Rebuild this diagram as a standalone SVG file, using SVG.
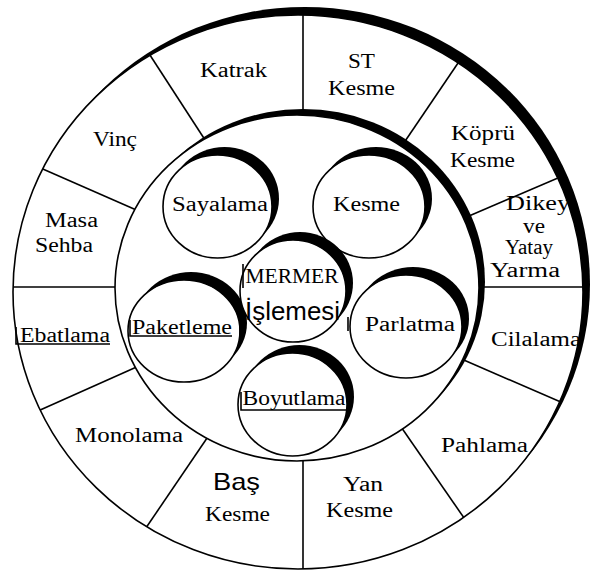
<svg xmlns="http://www.w3.org/2000/svg" width="593" height="571" viewBox="0 0 593 571">
<style>
.ln{fill:none;stroke:#000;stroke-width:1.6}
.sh{fill:#000}
.bd{fill:#fff;stroke:#000;stroke-width:1.6}
.t{font-family:"Liberation Serif","Times New Roman",serif;font-size:20px;fill:#000;text-anchor:middle}
.s{font-family:"Liberation Sans",Arial,sans-serif;fill:#000;text-anchor:middle}
</style>
<defs>
<clipPath id="oc"><ellipse cx="298" cy="292" rx="285" ry="277"/></clipPath>
</defs>
<rect width="593" height="571" fill="#fff"/>
<g id="outer-ring">
<ellipse class="sh" cx="305" cy="284" rx="285" ry="277"/>
<ellipse class="bd" cx="298" cy="292" rx="285" ry="277"/>
</g>
<g id="connectors" clip-path="url(#oc)" class="ln">
<line x1="303" y1="0" x2="303" y2="150"/>
<line x1="135" y1="32" x2="220" y2="163"/>
<line x1="20" y1="159" x2="150" y2="216"/>
<line x1="0" y1="287" x2="150" y2="287"/>
<line x1="20" y1="419" x2="150" y2="361"/>
<line x1="135" y1="544" x2="220" y2="419"/>
<line x1="303" y1="430" x2="303" y2="571"/>
<line x1="390" y1="411" x2="480" y2="541"/>
<line x1="450" y1="354" x2="593" y2="416"/>
<line x1="450" y1="287" x2="593" y2="287"/>
<line x1="455" y1="222" x2="593" y2="163"/>
<line x1="395" y1="156" x2="475" y2="38"/>
</g>
<g id="seg-katrak"><text class="t" x="233.5" y="77" textLength="67" lengthAdjust="spacingAndGlyphs">Katrak</text></g>
<g id="seg-st-kesme"><text class="t" x="361.5" y="68" textLength="27" lengthAdjust="spacingAndGlyphs">ST</text><text class="t" x="361.5" y="95" textLength="67" lengthAdjust="spacingAndGlyphs">Kesme</text></g>
<g id="seg-kopru-kesme"><text class="t" x="483" y="140" textLength="64" lengthAdjust="spacingAndGlyphs">Köprü</text><text class="t" x="482.5" y="167" textLength="65" lengthAdjust="spacingAndGlyphs">Kesme</text></g>
<g id="seg-dikey"><text class="t" x="538" y="210" textLength="64" lengthAdjust="spacingAndGlyphs">Dikey</text><text class="t" x="534" y="233" font-size="14" textLength="22" lengthAdjust="spacingAndGlyphs">ve</text><text class="t" x="529" y="254" font-size="17" textLength="48" lengthAdjust="spacingAndGlyphs">Yatay</text><text class="t" x="525" y="277" textLength="70" lengthAdjust="spacingAndGlyphs">Yarma</text></g>
<g id="seg-cilalama"><text class="t" x="536" y="346" textLength="90" lengthAdjust="spacingAndGlyphs">Cilalama</text></g>
<g id="seg-pahlama"><text class="t" x="484.5" y="452" textLength="87" lengthAdjust="spacingAndGlyphs">Pahlama</text></g>
<g id="seg-yan-kesme"><text class="t" x="363" y="491" textLength="40" lengthAdjust="spacingAndGlyphs">Yan</text><text class="t" x="359.5" y="517" textLength="67" lengthAdjust="spacingAndGlyphs">Kesme</text></g>
<g id="seg-bas-kesme"><text class="s" x="236.5" y="490" font-size="24" textLength="47" lengthAdjust="spacingAndGlyphs">Baş</text><text class="t" x="237.5" y="521" textLength="65" lengthAdjust="spacingAndGlyphs">Kesme</text></g>
<g id="seg-monolama"><text class="t" x="129" y="442" textLength="108" lengthAdjust="spacingAndGlyphs">Monolama</text></g>
<g id="seg-ebatlama"><path class="ln" d="M16,327V344H110"/><text class="t" x="65" y="342" textLength="90" lengthAdjust="spacingAndGlyphs">Ebatlama</text></g>
<g id="seg-masa-sehba"><text class="t" x="71.5" y="227" textLength="53" lengthAdjust="spacingAndGlyphs">Masa</text><text class="t" x="64" y="252" textLength="58" lengthAdjust="spacingAndGlyphs">Sehba</text></g>
<g id="seg-vinc"><text class="t" x="115" y="146" textLength="44" lengthAdjust="spacingAndGlyphs">Vinç</text></g>
<g id="inner-ring">
<ellipse class="sh" cx="303" cy="282" rx="182" ry="173"/>
<ellipse class="bd" cx="297" cy="288" rx="182" ry="173"/>
</g>
<g id="sayalama">
<ellipse class="sh" cx="224.5" cy="198.5" rx="54.5" ry="51.5"/>
<ellipse class="bd" cx="217.5" cy="206.5" rx="54.5" ry="51.5"/>
<text class="t" x="220" y="211" textLength="96" lengthAdjust="spacingAndGlyphs">Sayalama</text>
</g>
<g id="kesme">
<ellipse class="sh" cx="376" cy="198.5" rx="56" ry="51.5"/>
<ellipse class="bd" cx="369" cy="206.5" rx="56" ry="51.5"/>
<text class="t" x="366.5" y="211" textLength="67" lengthAdjust="spacingAndGlyphs">Kesme</text>
</g>
<g id="paketleme">
<ellipse class="sh" cx="191" cy="323" rx="56" ry="51"/>
<ellipse class="bd" cx="184" cy="331" rx="56" ry="51"/>
<path class="ln" d="M130,320V336H232M237,315H240V338"/>
<text class="t" x="182" y="334" textLength="100" lengthAdjust="spacingAndGlyphs">Paketleme</text>
</g>
<g id="parlatma">
<ellipse class="sh" cx="413" cy="318.5" rx="56" ry="51.5"/>
<ellipse class="bd" cx="406" cy="326.5" rx="56" ry="51.5"/>
<text class="t" x="410" y="331" textLength="90" lengthAdjust="spacingAndGlyphs">Parlatma</text>
</g>
<g id="mermer">
<ellipse class="sh" cx="300" cy="283" rx="53" ry="51"/>
<ellipse class="bd" cx="293" cy="291" rx="53" ry="51"/>
<path class="ln" d="M243,264V288M348,317V331"/>
<text class="t" x="292" y="283" font-size="21" textLength="93" lengthAdjust="spacingAndGlyphs">MERMER</text>
<text class="s" x="292.5" y="320" font-size="26" textLength="95" lengthAdjust="spacingAndGlyphs">İşlemesi</text>
</g>
<g id="boyutlama">
<ellipse class="sh" cx="299.5" cy="396.5" rx="54.5" ry="51.5"/>
<ellipse class="bd" cx="292.5" cy="404.5" rx="54.5" ry="51.5"/>
<path class="ln" d="M241,392V410H347"/>
<text class="t" x="294" y="405" textLength="103" lengthAdjust="spacingAndGlyphs">Boyutlama</text>
</g>
</svg>
